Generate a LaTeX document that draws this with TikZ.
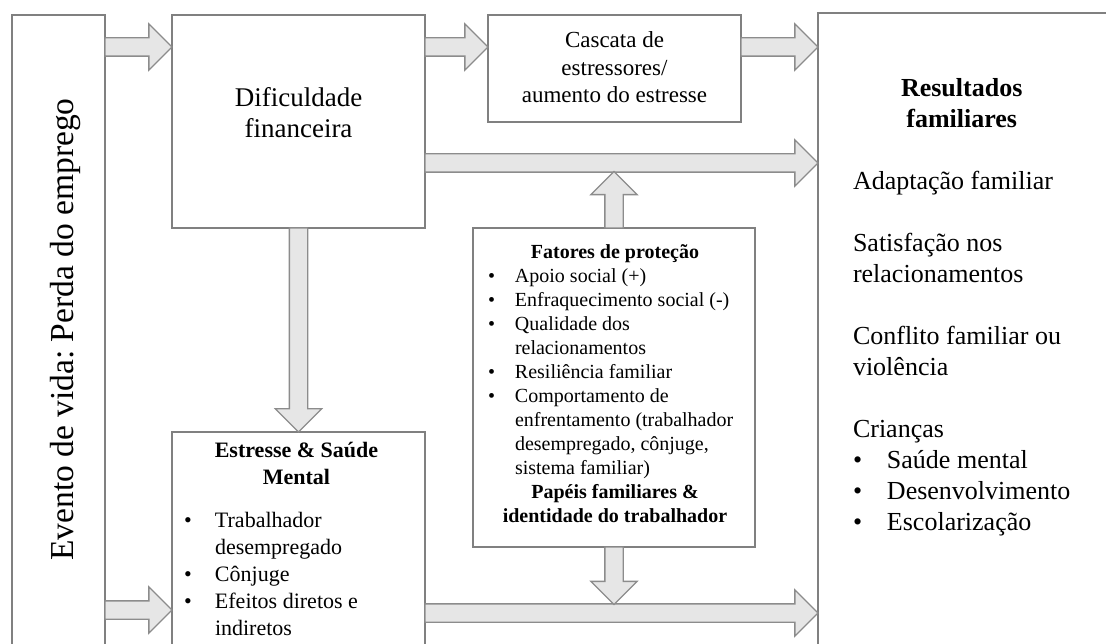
\documentclass[tikz,border=0pt]{standalone}
\usepackage{fontspec}
\setmainfont{Liberation Serif}
\usepackage{tikz}
\definecolor{boxgray}{RGB}{128,128,128}
\definecolor{arrowgray}{RGB}{140,140,140}
\definecolor{arrowfill}{RGB}{230,230,230}
\usetikzlibrary{calc}
\usetikzlibrary{shapes.arrows}
\frenchspacing

\tikzset{
  box/.style={draw=boxgray, line width=1.7pt, fill=white, inner sep=0pt, outer sep=0pt},
  boxtext/.style={inner sep=0pt, outer sep=0pt, anchor=base},
  fatarrow/.style={single arrow, draw=arrowgray, fill=arrowfill, line width=1.3pt,
    inner xsep=0pt, inner ysep=8.5pt, outer sep=0pt,
    single arrow head extend=14pt, single arrow tip angle=90}
}

% block arrow: name, from, to
\newcommand{\blockarrow}[3]{%
  \path let \p1=(#2), \p2=(#3),
    \n1={veclen(\x2-\x1,\y2-\y1)}, \n2={atan2(\y2-\y1,\x2-\x1)} in
    node[fatarrow, minimum height=\n1, rotate=\n2, anchor=tail] (#1) at (\p1) {};}

\begin{document}
\begin{tikzpicture}[x=1pt, y=-1pt]
    \useasboundingbox (0,0) rectangle (1106,644);
    \clip (0,0) rectangle (1106,644);

    % boxes
    \node[box, minimum width=93, minimum height=645] (evento) at (58.5,337.5) {};
    \node[box, minimum width=253, minimum height=213] (dific) at (298.5,121.5) {};
    \node[box, minimum width=253, minimum height=107] (cascata) at (614.5,68.5) {};
    \node[box, minimum width=282, minimum height=319] (fatores) at (614,387.5) {};
    \node[box, minimum width=253, minimum height=228] (estresse) at (298.5,546) {};
    \node[box, minimum width=400, minimum height=647] (results) at (1018,336.5) {};

    % texts
    \node[boxtext, rotate=90, font=\fontsize{33.5}{40}\selectfont] (eventotext)
        at (73,329.5) {Evento de vida: Perda do emprego};
    \node[boxtext, font=\fontsize{27}{31}\selectfont] (difictext) at ($(dific.north)+(0,92)$)
        {\begin{tabular}[t]{@{}c@{}}Dificuldade\\ financeira\end{tabular}};
    \node[boxtext, font=\fontsize{23}{27.5}\selectfont] (cascatatext) at ($(cascata.north)+(0,33)$)
        {\begin{tabular}[t]{@{}c@{}}Cascata de\\ estressores/\\ aumento do estresse\end{tabular}};
    \node[boxtext, anchor=base west, font=\fontsize{20}{24}\selectfont] (fatorestext)
        at ($(fatores.north west)+(15,31)$)
        {\begin{tabular}[t]{@{}p{27pt}@{}p{227pt}@{}}
        \multicolumn{2}{@{}c@{}}{\bfseries Fatores de proteção}\\
        \textbullet & Apoio social (+)\\
        \textbullet & Enfraquecimento social (-)\\
        \textbullet & Qualidade dos\\
        & relacionamentos\\
        \textbullet & Resiliência familiar\\
        \textbullet & Comportamento de\\
        & enfrentamento (trabalhador\\
        & desempregado, cônjuge,\\
        & sistema familiar)\\
        \multicolumn{2}{@{}c@{}}{\bfseries Papéis familiares \&}\\
        \multicolumn{2}{@{}c@{}}{\bfseries identidade do trabalhador}
        \end{tabular}};
    \node[boxtext, anchor=base west, font=\fontsize{22}{27}\selectfont] (estressetext)
        at ($(estresse.north west)+(12,25)$)
        {\begin{tabular}[t]{@{}p{31pt}@{}p{194pt}@{}}
        \multicolumn{2}{@{}c@{}}{\bfseries Estresse \& Saúde}\\
        \multicolumn{2}{@{}c@{}}{\bfseries Mental}\\[16pt]
        \textbullet & Trabalhador\\
        & desempregado\\
        \textbullet & Cônjuge\\
        \textbullet & Efeitos diretos e\\
        & indiretos
        \end{tabular}};
    \node[boxtext, anchor=base west, font=\fontsize{26}{31}\selectfont] (resultstext)
        at ($(results.north west)+(35,84)$)
        {\begin{tabular}[t]{@{}p{34pt}@{}l@{}}
        \multicolumn{2}{@{}c@{}}{\bfseries Resultados}\\
        \multicolumn{2}{@{}c@{}}{\bfseries familiares}\\[31pt]
        \multicolumn{2}{@{}l@{}}{Adaptação familiar}\\[31pt]
        \multicolumn{2}{@{}l@{}}{Satisfação nos}\\
        \multicolumn{2}{@{}l@{}}{relacionamentos}\\[31pt]
        \multicolumn{2}{@{}l@{}}{Conflito familiar ou}\\
        \multicolumn{2}{@{}l@{}}{violência}\\[31pt]
        \multicolumn{2}{@{}l@{}}{Crianças}\\
        \textbullet & Saúde mental\\
        \textbullet & Desenvolvimento\\
        \textbullet & Escolarização
        \end{tabular}};

    % arrow rows
    \coordinate (toprow) at (0,47);
    \coordinate (midrow) at (0,163);
    \coordinate (midshaft) at (0,171.5);
    \coordinate (lowrow) at (0,610);
    \coordinate (botrow) at (0,613);
    \coordinate (botshaft) at (0,604.5);

    % block arrows
    \blockarrow{a1}{evento.east |- toprow}{dific.west |- toprow}
    \blockarrow{a2}{dific.east |- toprow}{cascata.west |- toprow}
    \blockarrow{a3}{cascata.east |- toprow}{results.west |- toprow}
    \blockarrow{a4}{dific.east |- midrow}{results.west |- midrow}
    \blockarrow{a5}{dific.south}{estresse.north}
    \blockarrow{a6}{fatores.north}{fatores.north |- midshaft}
    \blockarrow{a7}{evento.east |- lowrow}{estresse.west |- lowrow}
    \blockarrow{a8}{estresse.east |- botrow}{results.west |- botrow}
    \blockarrow{a9}{fatores.south}{fatores.south |- botshaft}
\end{tikzpicture}
\end{document}
